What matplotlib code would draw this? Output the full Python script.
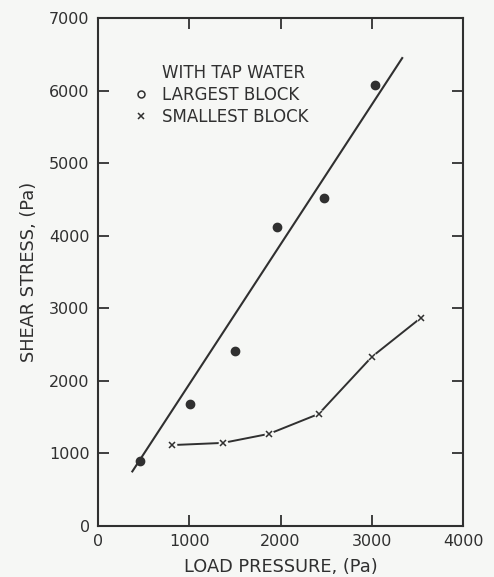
import matplotlib
matplotlib.use("Agg")
import matplotlib.pyplot as plt
from matplotlib.lines import Line2D

# Largest block (filled dots) and the straight line drawn through them
large_x = [460, 1005, 1500, 1960, 2480, 3040]
large_y = [895, 1680, 2410, 4120, 4520, 6080]
fit_x = [370, 3340]
fit_y = [740, 6460]

# Smallest block (x marks joined by a line)
small_x = [810, 1370, 1875, 2420, 3000, 3535]
small_y = [1115, 1145, 1270, 1545, 2330, 2865]

x_ticks = [0, 1000, 2000, 3000, 4000]
y_ticks = [0, 1000, 2000, 3000, 4000, 5000, 6000, 7000]

ink = "#303030"
paper = "#f6f7f5"
plt.rcParams["font.family"] = ["DejaVu Sans"]

fig = plt.figure(figsize=(4.94, 5.77), dpi=100, facecolor=paper)
ax = fig.add_axes([98 / 494, 51 / 577, 365 / 494, 508 / 577])
ax.set_facecolor(paper)

ax.plot(fit_x, fit_y, color=ink, lw=1.5, solid_capstyle="butt")
ax.plot(large_x, large_y, "o", color=ink, ms=6, mec=ink)

ax.plot(small_x, small_y, color=ink, lw=1.4)
# small gaps in the line around each x
ax.plot(small_x, small_y, "o", color=paper, mec="none", ms=7, zorder=3)
ax.plot(small_x, small_y, "x", color=ink, ms=5, mew=1.1, zorder=4)

ax.set_xlim(0, 4000)
ax.set_ylim(0, 7000)
ax.set_xticks(x_ticks)
ax.set_yticks(y_ticks)
ax.tick_params(direction="in", length=8, width=1.3, colors=ink,
               labelsize=11.5, top=True, right=True, pad=6)
for s in ax.spines.values():
    s.set_linewidth(1.5)
    s.set_color(ink)

ax.set_xlabel("LOAD PRESSURE, (Pa)", fontsize=12.8, color=ink, labelpad=6)
ax.set_ylabel("SHEAR STRESS, (Pa)", fontsize=12.8, color=ink, labelpad=8)

handles = [
    Line2D([], [], linestyle="none"),
    Line2D([], [], marker="o", linestyle="none", mfc="none", mec=ink, ms=5, mew=1.1),
    Line2D([], [], marker="x", linestyle="none", color=ink, ms=5, mew=1.1),
]
labels = ["WITH TAP WATER", "LARGEST BLOCK", "SMALLEST BLOCK"]
leg = ax.legend(handles, labels, loc="upper left", bbox_to_anchor=(0.095, 0.910),
                frameon=False, fontsize=12, handlelength=1.0, handletextpad=0.75,
                labelspacing=0.25, borderpad=0, borderaxespad=0)
for t in leg.get_texts():
    t.set_color(ink)

fig.savefig("out.png", dpi=100, facecolor=paper)
